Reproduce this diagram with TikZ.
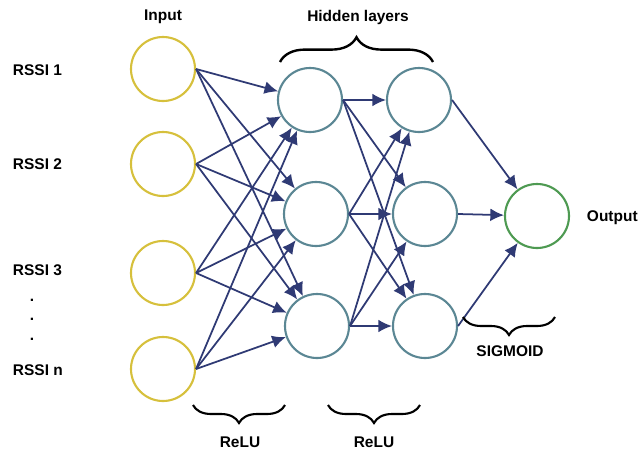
\documentclass[tikz,border=0pt]{standalone}
\usepackage{fontspec}
\setmainfont{Liberation Sans}
\usepackage{tikz}
\usetikzlibrary{arrows.meta, decorations.pathreplacing, positioning}

\definecolor{inputcol}{HTML}{D6C03C}
\definecolor{hiddencol}{HTML}{5B8794}
\definecolor{outputcol}{HTML}{4E9A52}
\definecolor{arrowcol}{HTML}{2F3A74}

\begin{document}
\begin{tikzpicture}[x=0.025cm, y=-0.025cm,
		neuron/.style={circle, draw, line width=1.5pt, minimum size=1.6cm, inner sep=0pt},
		inneuron/.style={neuron, draw=inputcol},
		hidneuron/.style={neuron, draw=hiddencol},
		outneuron/.style={neuron, draw=outputcol},
		conn/.style={-{Latex[length=3.4mm,width=3.2mm]}, line width=1.25pt, arrowcol},
		lbl/.style={font=\fontsize{11}{13}\selectfont\bfseries},
		bracebelow/.style={decorate, decoration={brace, mirror, amplitude=0.45cm}, line width=1.5pt},
		braceabove/.style={decorate, decoration={brace, amplitude=0.62cm}, line width=1.7pt}]
		\useasboundingbox (0,0) rectangle (639,455);
		
		% Layers
		\node[inneuron] (in1) at (163,69) {};
		\node[inneuron] (in2) at (163,164) {};
		\node[inneuron] (in3) at (163,273) {};
		\node[inneuron] (in4) at (163,369) {};
		
		\node[hidneuron] (ha1) at (310,100) {};
		\node[hidneuron] (ha2) at (316,214) {};
		\node[hidneuron] (ha3) at (317,326) {};
		
		\node[hidneuron] (hb1) at (419,100) {};
		\node[hidneuron] (hb2) at (425,214) {};
		\node[hidneuron] (hb3) at (425,326) {};
		
		\node[outneuron] (out) at (537,216) {};
		
		% Labels
		\node[lbl] (inputlbl) at (163,17) {Input};
		\node[lbl] (hiddenlbl) at (358,17) {Hidden layers};
		\node[lbl, anchor=west] (outlbl) at (582,218) {Output};
		\node[lbl, anchor=west] (rssi1) at (8,70) {RSSI 1};
		\node[lbl, anchor=west] (rssi2) at (8,164) {RSSI 2};
		\node[lbl, anchor=west] (rssi3) at (8,270) {RSSI 3};
		\node[lbl, anchor=west] (rssin) at (8,370) {RSSI n};
		\node[lbl] (dot1) at (32,300) {.};
		\node[lbl] (dot2) at (32,319) {.};
		\node[lbl] (dot3) at (32,339) {.};
		
		% Input -> first hidden layer
		\draw[conn] (in1.east) -- (ha1);
		\draw[conn] (in1.east) -- (ha2);
		\draw[conn] (in1.east) -- (ha3);
		\draw[conn] (in2.east) -- (ha1);
		\draw[conn] (in2.east) -- (ha2);
		\draw[conn] (in2.east) -- (ha3);
		\draw[conn] (in3.east) -- (ha1);
		\draw[conn] (in3.east) -- (ha2);
		\draw[conn] (in3.east) -- (ha3);
		\draw[conn] (in4.east) -- (ha1);
		\draw[conn] (in4.east) -- (ha2);
		\draw[conn] (in4.east) -- (ha3);
		
		% First -> second hidden layer
		\draw[conn] (ha1.east) -- (hb1);
		\draw[conn] (ha1.east) -- (hb2);
		\draw[conn] (ha1.east) -- (hb3);
		\draw[conn] (ha2.east) -- (hb1);
		\draw[conn] (ha2.east) -- (hb2);
		\draw[conn] (ha2.east) -- (hb3);
		\draw[conn] (ha3.east) -- (hb1);
		\draw[conn] (ha3.east) -- (hb2);
		\draw[conn] (ha3.east) -- (hb3);
		
		% Second hidden layer -> output
		\draw[conn] (hb1.east) -- (out);
		\draw[conn] (hb2.east) -- (out);
		\draw[conn] (hb3.east) -- (out);
		
		% Braces
		\coordinate (hidl) at (280,62);
		\coordinate (hidr) at (433,62);
		\draw[braceabove] (hidl) -- (hidr);
		
		\coordinate (relual) at (193,405);
		\coordinate (reluar) at (285,405);
		\draw[bracebelow] (relual) -- (reluar);
		\node[lbl] (relua) at (240,442) {ReLU};
		
		\coordinate (relubl) at (328,405);
		\coordinate (relubr) at (420,405);
		\draw[bracebelow] (relubl) -- (relubr);
		\node[lbl] (relub) at (374,442) {ReLU};
		
		\coordinate (sigl) at (463,317);
		\coordinate (sigr) at (555,317);
		\draw[bracebelow] (sigl) -- (sigr);
		\node[lbl] (sigmoid) at (510,351) {SIGMOID};
	\end{tikzpicture}
\end{document}
